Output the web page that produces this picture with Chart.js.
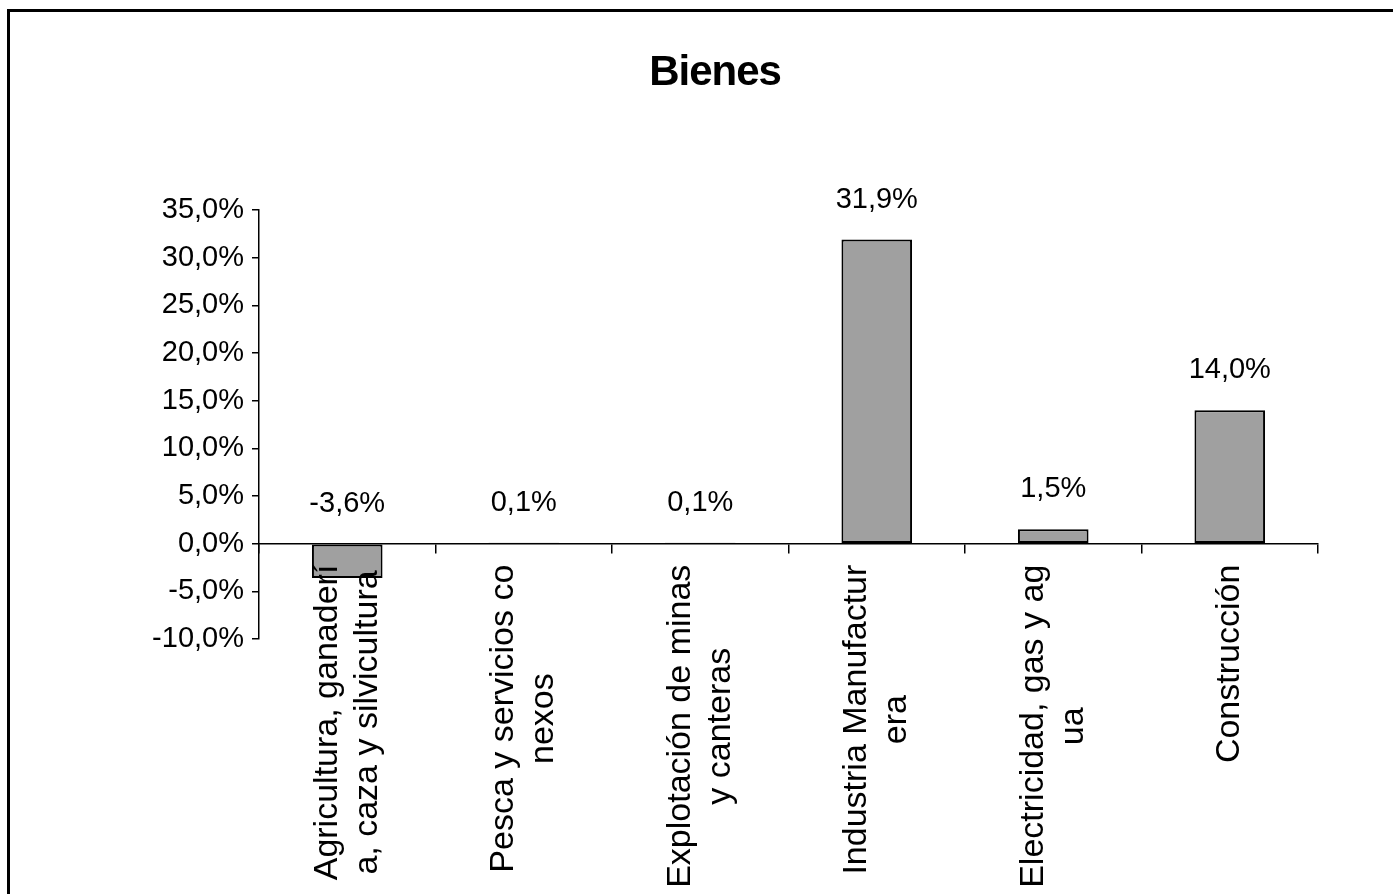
<!DOCTYPE html>
<html>
<head>
<meta charset="utf-8">
<script src="https://cdn.jsdelivr.net/npm/chart.js@4/dist/chart.umd.min.js"></script>
<style>
  html, body { margin: 0; padding: 0; background: #fff; overflow: hidden; }
  #wrap { position: relative; width: 1393px; height: 894px; }
  #frame {
    position: absolute; left: 7px; top: 9px; width: 1500px; height: 1000px;
    border-left: 3px solid #000; border-top: 3px solid #000;
  }
  canvas { position: absolute; left: 0; top: 0; }
</style>
</head>
<body>
<div id="wrap">
  <div id="frame"></div>
  <canvas id="bienesChart" width="1393" height="894"></canvas>
</div>
<script>
const categories = [
    ["Agricultura, ganaderí", "a, caza y silvicultura"],
    ["Pesca y servicios co", "nexos"],
    ["Explotación de minas", "y canteras"],
    ["Industria Manufactur", "era"],
    ["Electricidad, gas y ag", "ua"],
    ["Construcción"],
];
const values = [-3.6, 0.1, 0.1, 31.9, 1.5, 14.0];
const yMin = -10;
const yMax = 35;
const yStep = 5;
const chartTitle = "Bienes";

const FONT = "'Liberation Sans', Arial, sans-serif";

const fmt = (v) => v.toFixed(1).replace(".", ",") + "%";

// title drawn by hand so it sits where the original puts it
const titlePlugin = {
    id: "titlePlugin",
    afterDraw(chart) {
        const ctx = chart.ctx;
        ctx.save();
        ctx.font = "bold 42px " + FONT;
        ctx.letterSpacing = "-1px";
        ctx.fillStyle = "#000";
        ctx.textAlign = "center";
        ctx.textBaseline = "middle";
        ctx.fillText(chartTitle, 715, 73);
        ctx.restore();
    },
};

// value labels above each bar (or above the zero line for negatives)
const valueLabels = {
    id: "valueLabels",
    afterDatasetsDraw(chart) {
        const ctx = chart.ctx;
        const meta = chart.getDatasetMeta(0);
        ctx.save();
        ctx.font = "29px " + FONT;
        ctx.fillStyle = "#000";
        ctx.textAlign = "center";
        ctx.textBaseline = "middle";
        meta.data.forEach((bar, i) => {
            const top = Math.min(bar.y, bar.base);
            ctx.fillText(fmt(values[i]), bar.x, top - 40);
        });
        ctx.restore();
    },
};

// rotated category labels, lines centered on each other
const categoryLabels = {
    id: "categoryLabels",
    afterDraw(chart) {
        const ctx = chart.ctx;
        const xs = chart.scales.x;
        const yZero = chart.scales.y.getPixelForValue(0);
        const lh = 40;
        ctx.save();
        ctx.font = "34px " + FONT;
        ctx.fillStyle = "#000";
        ctx.textAlign = "center";
        ctx.textBaseline = "middle";
        categories.forEach((lines, i) => {
            const x = xs.getPixelForValue(i);
            const maxW = Math.max(...lines.map((l) => ctx.measureText(l).width));
            const cy = yZero + 21 + maxW / 2;
            lines.forEach((line, k) => {
                const cx = x + (k - (lines.length - 1) / 2) * lh;
                ctx.save();
                ctx.translate(cx, cy);
                ctx.rotate(-Math.PI / 2);
                ctx.fillText(line, 0, 0);
                ctx.restore();
            });
        });
        ctx.restore();
    },
};

const ctx = document.getElementById("bienesChart").getContext("2d");
new Chart(ctx, {
    type: "bar",
    data: {
        labels: categories,
        datasets: [
            {
                data: values,
                backgroundColor: "#a0a0a0",
                borderColor: "#000",
                borderWidth: 2,
                borderSkipped: false,
                categoryPercentage: 1,
                barPercentage: 0.4,
            },
        ],
    },
    options: {
        responsive: false,
        animation: false,
        devicePixelRatio: 1,
        layout: {
            padding: { left: 0, right: 75, top: 210, bottom: 255 },
        },
        plugins: {
            legend: { display: false },
            tooltip: { enabled: false },
            title: { display: false },
        },
        scales: {
            x: {
                position: { y: 0 },
                offset: true,
                ticks: { display: false },
                grid: {
                    offset: true,
                    drawOnChartArea: false,
                    drawTicks: true,
                    tickLength: 9,
                    color: "#000",
                    lineWidth: 1.5,
                },
                border: { display: true, color: "#000", width: 1.5 },
                afterFit(scale) {
                    scale.height = 10;
                },
            },
            y: {
                min: yMin,
                max: yMax,
                ticks: {
                    stepSize: yStep,
                    color: "#000",
                    padding: 8,
                    font: { family: FONT, size: 29 },
                    callback: (v) => fmt(v),
                },
                grid: {
                    drawOnChartArea: false,
                    drawTicks: true,
                    tickLength: 7,
                    color: "#000",
                    lineWidth: 1.5,
                },
                border: { display: true, color: "#000", width: 1.5 },
                afterFit(scale) {
                    scale.width = 259;
                },
            },
        },
    },
    plugins: [valueLabels, categoryLabels, titlePlugin],
});
</script>
</body>
</html>
